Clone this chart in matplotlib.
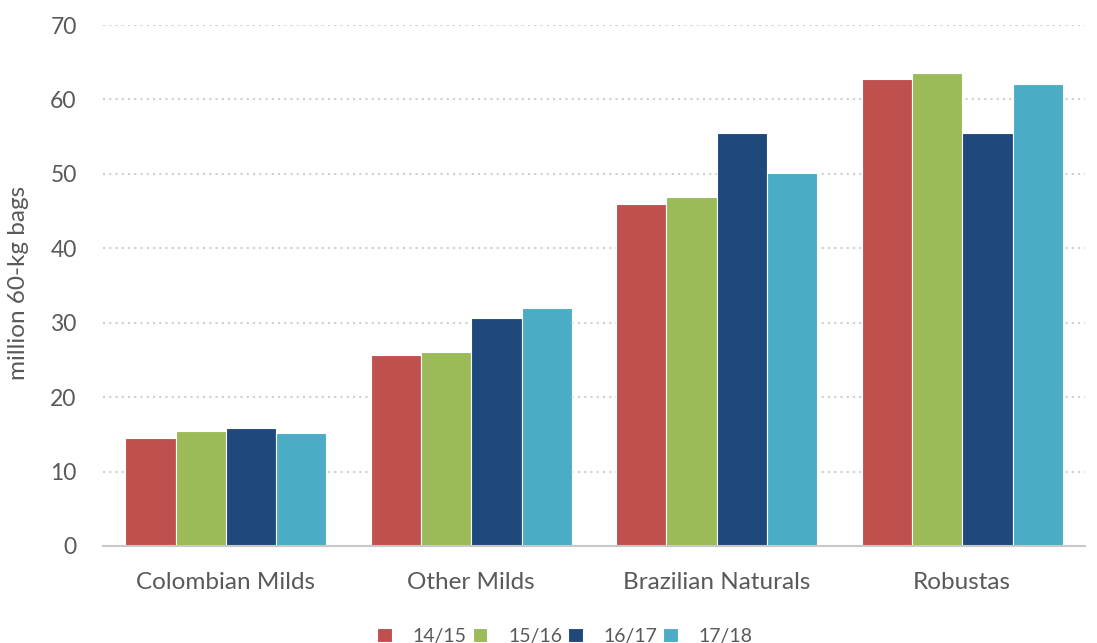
import matplotlib
matplotlib.use("Agg")
import matplotlib.pyplot as plt
import numpy as np

categories = ["Colombian Milds", "Other Milds", "Brazilian Naturals", "Robustas"]
seasons = ["14/15", "15/16", "16/17", "17/18"]
v1415 = [14.5, 25.7, 46.0, 62.7]
v1516 = [15.4, 26.1, 46.9, 63.6]
v1617 = [15.9, 30.6, 55.5, 55.5]
v1718 = [15.2, 32.0, 50.1, 62.1]
colors = ["#C0504D", "#9BBB59", "#1F497D", "#4BACC6"]
yticks = [0, 10, 20, 30, 40, 50, 60, 70]

plt.rcParams['font.family'] = ['Lato', 'DejaVu Sans']
text_color = "#595959"

fig = plt.figure(figsize=(10.97, 6.43), dpi=100)
ax = fig.add_axes([0.094, 0.151, 0.895, 0.81])

x = np.arange(len(categories))
w = 0.205
series = [v1415, v1516, v1617, v1718]
for i, (vals, c, lab) in enumerate(zip(series, colors, seasons)):
    ax.bar(x + (i - 1.5) * w, vals, width=w, color=c, edgecolor="white",
           linewidth=0.8, label=lab, zorder=3)

ax.set_xlim(-0.5, 3.5)
ax.set_ylim(0, 70)
ax.set_yticks(yticks)
ax.set_xticks(x)
ax.set_xticklabels(categories)
ax.tick_params(axis='both', length=0, colors=text_color)
ax.tick_params(axis='x', pad=19, labelsize=17.5)
ax.tick_params(axis='y', pad=19, labelsize=16.5)
for s in ["top", "right", "left"]:
    ax.spines[s].set_visible(False)
ax.spines["bottom"].set_color("#c8c8c8")
ax.spines["bottom"].set_linewidth(1.5)
ax.spines["bottom"].set_zorder(4)
ax.yaxis.grid(True, linestyle=(0, (1, 2)), color="#cfcfcf", linewidth=1.5, zorder=0)
ax.set_axisbelow(True)
ax.set_ylabel("million 60-kg bags", color=text_color, fontsize=17.5)
ax.yaxis.set_label_coords(-0.075, 0.505)

leg = fig.legend(loc="lower center", bbox_to_anchor=(0.515, -0.03), ncol=4,
                 frameon=False, fontsize=14, handlelength=0.75, handleheight=0.75,
                 handletextpad=1.08, columnspacing=0.3)
for t in leg.get_texts():
    t.set_color(text_color)

fig.savefig("out.png", dpi=100)
